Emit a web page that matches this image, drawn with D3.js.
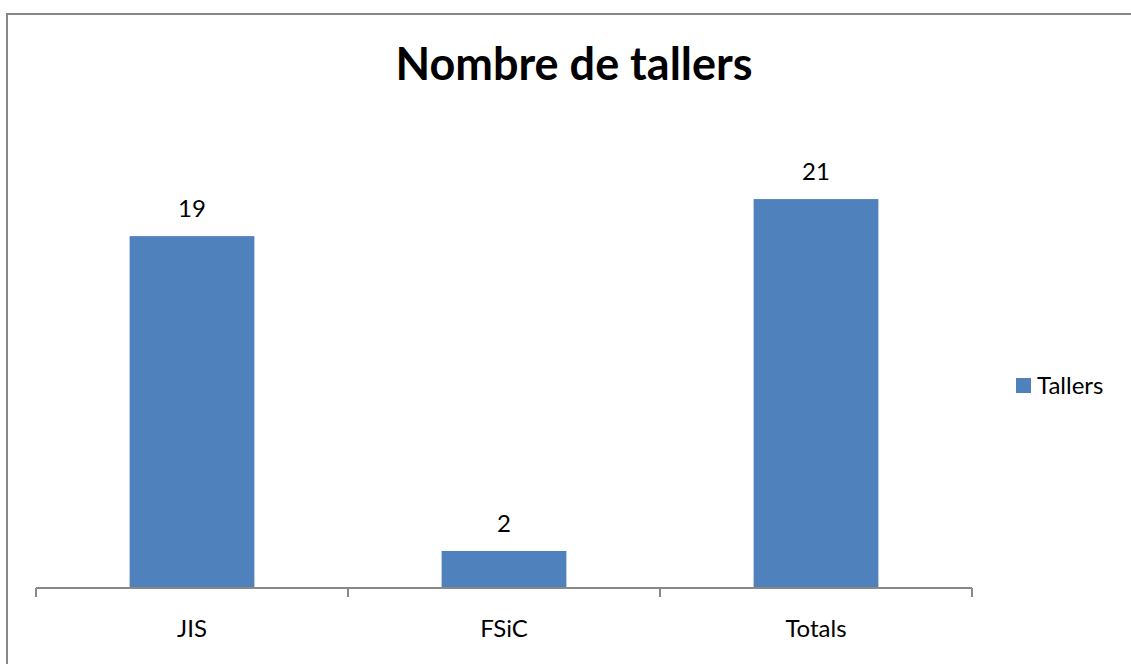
<!DOCTYPE html>
<html><head><meta charset="utf-8">
<script src="https://cdn.jsdelivr.net/npm/d3@7"></script>
<style>html,body{margin:0;padding:0;background:#fff;overflow:hidden}</style>
</head><body>
<svg id="c" width="1131" height="664"></svg>
<script>
const categories = ["JIS", "FSiC", "Totals"];
const values = [19, 2, 21];
const seriesName = "Tallers";
const title = "Nombre de tallers";
const yMax = 25;

const svg = d3.select("#c");
const font = "Lato, 'Open Sans', sans-serif";
svg.append("rect").attr("width",1131).attr("height",664).attr("fill","#fff");
svg.append("rect").attr("x",7).attr("y",14).attr("width",1200).attr("height",800)
  .attr("fill","none").attr("stroke","#888").attr("stroke-width",2);

const x = d3.scaleBand().domain(categories).range([36, 972]).paddingInner(0.6).paddingOuter(0.3);
const y = d3.scaleLinear().domain([0, yMax]).range([588, 125]);

svg.append("text").attr("x",574).attr("y",80).attr("text-anchor","middle")
  .attr("font-family",font).attr("font-weight","bold").attr("font-size",45).attr("fill","#000").text(title);

svg.selectAll("rect.bar").data(values).enter().append("rect").attr("class","bar")
  .attr("x",(d,i)=>x(categories[i])).attr("width",x.bandwidth())
  .attr("y",d=>y(d)).attr("height",d=>y(0)-y(d)).attr("fill","#4f81bd");

svg.selectAll("text.val").data(values).enter().append("text").attr("class","val")
  .attr("x",(d,i)=>x(categories[i])+x.bandwidth()/2).attr("y",d=>y(d)-19)
  .attr("text-anchor","middle").attr("font-family",font).attr("font-size",24).attr("fill","#000").text(d=>d);

// axis
const band = d3.scaleBand().domain(categories).range([36,972]);
const g = svg.append("g");
g.append("line").attr("x1",36).attr("x2",972).attr("y1",588).attr("y2",588).attr("stroke","#888").attr("stroke-width",2);
const edges = categories.map(c=>band(c)).concat([972]);
g.selectAll("line.tick").data(edges).enter().append("line").attr("class","tick")
  .attr("x1",d=>d).attr("x2",d=>d).attr("y1",588).attr("y2",597).attr("stroke","#888").attr("stroke-width",2);
g.selectAll("text.cat").data(categories).enter().append("text").attr("class","cat")
  .attr("x",d=>band(d)+band.bandwidth()/2).attr("y",637).attr("text-anchor","middle")
  .attr("font-family",font).attr("font-size",24).attr("fill","#000").text(d=>d);

// legend
svg.append("rect").attr("x",1016).attr("y",378).attr("width",15).attr("height",15).attr("fill","#4f81bd");
svg.append("text").attr("x",1037).attr("y",394).attr("font-family",font).attr("font-size",24).attr("fill","#000").text(seriesName);
</script>
</body></html>
